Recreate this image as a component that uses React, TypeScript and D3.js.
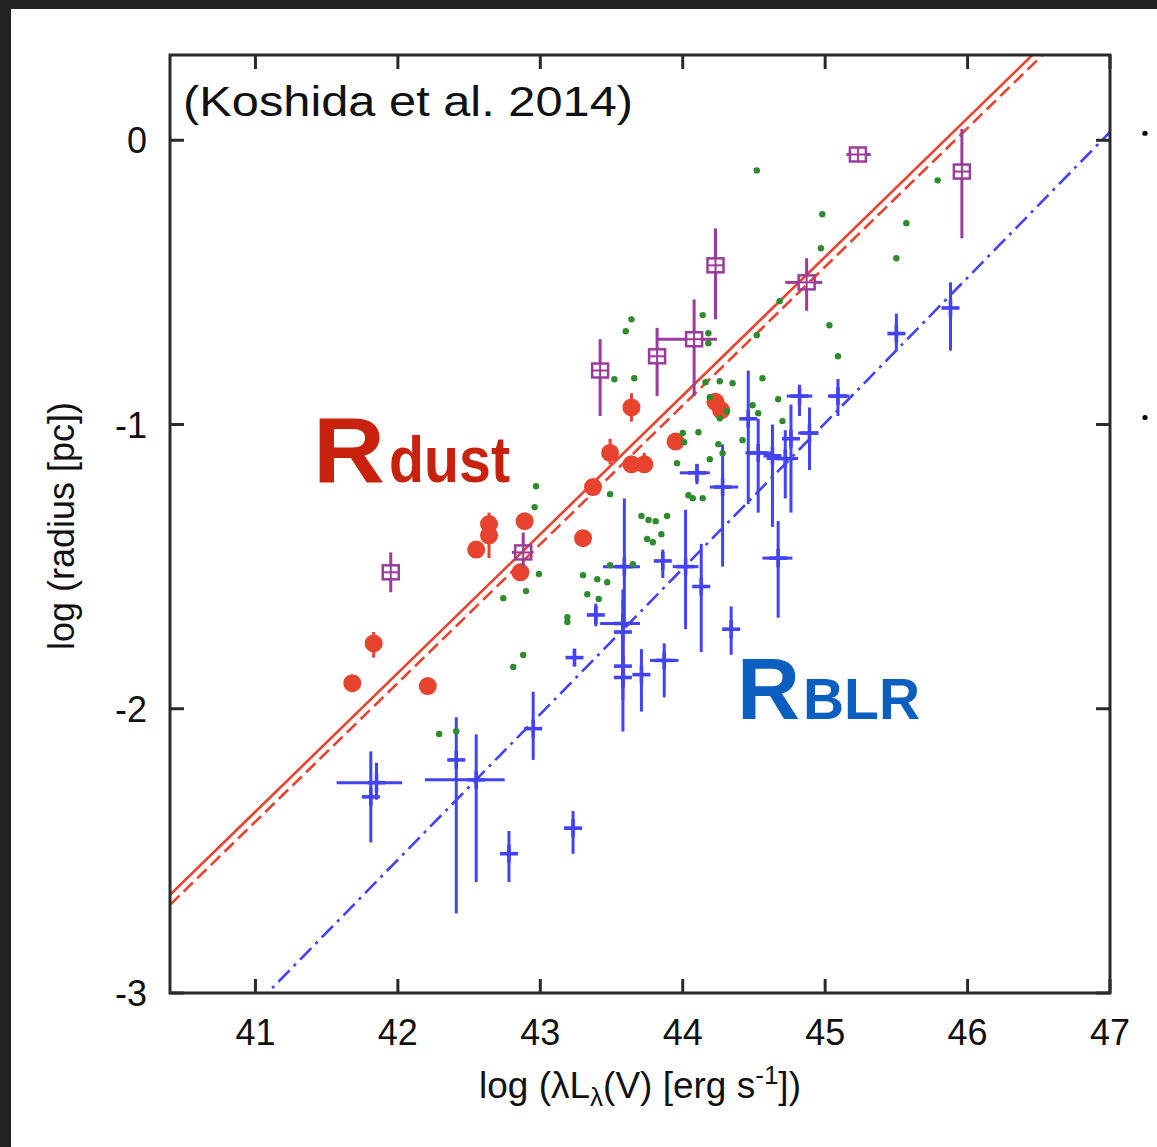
import React from 'react';
import * as d3 from 'd3';

type P = { x: number; y: number; ylo?: number; yhi?: number; xlo?: number; xhi?: number };

const xTicks = [41, 42, 43, 44, 45, 46, 47];
const yTicks = [0, -1, -2, -3];

// Red filled circles: dust reverberation radii
const dustPoints: P[] = [
  { x: 41.68, y: -1.91 },
  { x: 41.83, y: -1.77, ylo: -1.82, yhi: -1.73 },
  { x: 42.21, y: -1.92 },
  { x: 42.55, y: -1.44 },
  { x: 42.64, y: -1.35, ylo: -1.47, yhi: -1.31 },
  { x: 42.64, y: -1.39 },
  { x: 42.89, y: -1.34 },
  { x: 42.86, y: -1.52 },
  { x: 43.3, y: -1.4 },
  { x: 43.37, y: -1.22 },
  { x: 43.49, y: -1.1, ylo: -1.14, yhi: -1.05 },
  { x: 43.64, y: -1.14 },
  { x: 43.73, y: -1.14, ylo: -1.15, yhi: -1.1 },
  { x: 43.64, y: -0.94, ylo: -0.99, yhi: -0.89 },
  { x: 43.95, y: -1.06 },
  { x: 44.23, y: -0.92 },
  { x: 44.27, y: -0.95 },
];

// Purple open squares with cross: interferometric radii
const interfPoints: P[] = [
  { x: 41.95, y: -1.52, ylo: -1.59, yhi: -1.45 },
  { x: 42.88, y: -1.45, ylo: -1.5, yhi: -1.38, xlo: 42.8, xhi: 42.95 },
  { x: 43.42, y: -0.81, ylo: -0.97, yhi: -0.7 },
  { x: 43.82, y: -0.76, ylo: -0.9, yhi: -0.66 },
  { x: 44.08, y: -0.7, ylo: -0.9, yhi: -0.56, xlo: 43.82, xhi: 44.24 },
  { x: 44.23, y: -0.44, ylo: -0.63, yhi: -0.31 },
  { x: 44.87, y: -0.5, ylo: -0.6, yhi: -0.415, xlo: 44.72, xhi: 44.98 },
  { x: 45.23, y: -0.05, xlo: 45.15, xhi: 45.32 },
  { x: 45.96, y: -0.11, ylo: -0.345, yhi: 0.04 },
];

// Blue crosses: BLR radii
const blrPoints: P[] = [
  { x: 41.81, y: -2.31, ylo: -2.47, yhi: -2.15 },
  { x: 41.85, y: -2.26, ylo: -2.32, yhi: -2.19, xlo: 41.57, xhi: 42.03 },
  { x: 42.41, y: -2.18, ylo: -2.72, yhi: -2.03 },
  { x: 42.55, y: -2.25, ylo: -2.61, yhi: -2.09, xlo: 42.19, xhi: 42.75 },
  { x: 42.78, y: -2.51, ylo: -2.61, yhi: -2.43 },
  { x: 43.23, y: -2.42, ylo: -2.51, yhi: -2.36 },
  { x: 42.95, y: -2.07, ylo: -2.18, yhi: -1.94 },
  { x: 43.24, y: -1.82, ylo: -1.85, yhi: -1.8 },
  { x: 43.39, y: -1.67, ylo: -1.71, yhi: -1.63 },
  { x: 43.59, y: -1.5, ylo: -1.71, yhi: -1.26, xlo: 43.44, xhi: 43.7 },
  { x: 43.58, y: -1.7, ylo: -1.83, yhi: -1.58, xlo: 43.42, xhi: 43.7 },
  { x: 43.58, y: -1.73, ylo: -1.97, yhi: -1.62 },
  { x: 43.58, y: -1.85, ylo: -2.08, yhi: -1.76 },
  { x: 43.58, y: -1.89, ylo: -1.93, yhi: -1.81 },
  { x: 43.71, y: -1.88, ylo: -2.01, yhi: -1.79 },
  { x: 43.87, y: -1.83, ylo: -1.96, yhi: -1.77, xlo: 43.77, xhi: 43.97 },
  { x: 43.86, y: -1.48, ylo: -1.54, yhi: -1.44 },
  { x: 44.02, y: -1.5, ylo: -1.72, yhi: -1.3, xlo: 43.93, xhi: 44.11 },
  { x: 44.13, y: -1.57, ylo: -1.8, yhi: -1.42 },
  { x: 44.34, y: -1.72, ylo: -1.81, yhi: -1.64 },
  { x: 44.67, y: -1.47, ylo: -1.68, yhi: -1.34, xlo: 44.56, xhi: 44.77 },
  { x: 44.1, y: -1.17, ylo: -1.21, yhi: -1.14, xlo: 43.98, xhi: 44.19 },
  { x: 44.28, y: -1.22, ylo: -1.5, yhi: -1.07, xlo: 44.19, xhi: 44.39 },
  { x: 44.46, y: -0.98, ylo: -1.28, yhi: -0.81 },
  { x: 44.53, y: -1.1, ylo: -1.31, yhi: -0.98, xlo: 44.44, xhi: 44.64 },
  { x: 44.63, y: -1.11, ylo: -1.36, yhi: -1.0 },
  { x: 44.72, y: -1.12, ylo: -1.26, yhi: -1.02, xlo: 44.59, xhi: 44.81 },
  { x: 44.76, y: -1.05, ylo: -1.31, yhi: -0.93 },
  { x: 44.89, y: -1.03, ylo: -1.16, yhi: -0.94, xlo: 44.81, xhi: 44.95 },
  { x: 44.82, y: -0.9, ylo: -0.97, yhi: -0.86, xlo: 44.73, xhi: 44.91 },
  { x: 45.09, y: -0.9, ylo: -0.97, yhi: -0.84, xlo: 45.02, xhi: 45.17 },
  { x: 45.5, y: -0.68, ylo: -0.74, yhi: -0.61 },
  { x: 45.88, y: -0.59, ylo: -0.74, yhi: -0.5 },
];

// Green small dots
const greenX = [
  44.52, 44.98, 45.79, 45.57, 44.97, 45.5, 44.68, 45.03, 44.14, 44.18, 44.18, 44.52, 45.09, 44.56,
  44.16, 44.26, 44.35, 44.67, 44.49, 44.53, 44.7, 44.31, 44.26, 44.19, 44.0, 44.11, 44.01, 44.25,
  44.42, 44.28, 44.19, 43.96, 43.64, 43.6, 43.52, 43.66, 43.49, 44.04, 44.07, 44.14, 43.71, 43.76,
  43.81, 43.89, 43.85, 43.75, 43.79, 43.49, 43.65, 43.3, 43.4, 43.47, 43.33, 43.41, 43.19, 43.19,
  42.97, 42.96, 42.99, 42.9, 42.74, 42.88, 42.81, 42.29, 42.41,
];
const greenY = [
  -0.106, -0.26, -0.141, -0.292, -0.38, -0.415, -0.566, -0.651, -0.615, -0.679, -0.714, -0.686,
  -0.76, -0.837, -0.851, -0.848, -0.855, -0.911, -0.932, -0.96, -0.988, -0.953, -0.978, -0.904,
  -1.03, -1.027, -1.062, -1.069, -1.055, -1.101, -1.122, -1.136, -0.63, -0.672, -0.841, -0.837,
  -1.245, -1.249, -1.259, -1.259, -1.322, -1.336, -1.34, -1.322, -1.386, -1.403, -1.414, -1.495,
  -1.491, -1.53, -1.544, -1.555, -1.597, -1.614, -1.678, -1.695, -1.217, -1.291, -1.526, -1.586,
  -1.611, -1.811, -1.853, -2.089, -2.079,
];

// Fitted relations: y = a + b (x - 44)
const fitDustSolid = { a: -0.898, b: 0.488 };
const fitDustDashed = { a: -0.933, b: 0.488 };
const fitBLR = { a: -1.507, b: 0.512 };

const W = 1157;
const H = 1147;
const M = { left: 170, right: 1110, top: 55, bottom: 993 };

const FONT = "'Liberation Sans', Arial, Helvetica, sans-serif";
const RED = '#e8432f';
const PURPLE = '#9b3b9b';
const BLUE = '#4242f6';
const GREEN = '#2e8b2e';

export default function App() {
  const x = d3.scaleLinear().domain([40.4, 47]).range([M.left, M.right]);
  const y = d3.scaleLinear().domain([-3, 0.3]).range([M.bottom, M.top]);
  const xd = x.domain();

  const fitLine = (f: { a: number; b: number }) =>
    d3
      .line<number>()
      .x((v) => x(v))
      .y((v) => y(f.a + f.b * (v - 44)))([xd[0], xd[1]]) as string;

  const tickLen = 14;

  return (
    <svg
      width={W}
      height={H}
      style={{ position: 'absolute', left: 0, top: 0, background: '#fff' }}
      fontFamily={FONT}
    >
      <defs>
        <clipPath id="plotclip">
          <rect x={M.left} y={M.top} width={M.right - M.left} height={M.bottom - M.top} />
        </clipPath>
      </defs>
      <rect x={0} y={0} width={W} height={H} fill="#fff" />
      {/* dark screenshot border */}
      <rect x={0} y={0} width={W} height={9} fill="#222" />
      <rect x={0} y={0} width={11} height={H} fill="#222" />

      <g clipPath="url(#plotclip)">
        {/* fit lines */}
        <path d={fitLine(fitDustSolid)} stroke={RED} strokeWidth={2.6} fill="none" />
        <path
          d={fitLine(fitDustDashed)}
          stroke={RED}
          strokeWidth={2.6}
          fill="none"
          strokeDasharray="13,6"
        />
        <path
          d={fitLine(fitBLR)}
          stroke={BLUE}
          strokeWidth={2.6}
          fill="none"
          strokeDasharray="16,6,3,6"
        />

        {/* BLR crosses */}
        <g stroke={BLUE} strokeWidth={3} fill="none">
          {blrPoints.map((p, i) => (
            <g key={'b' + i}>
              {p.ylo !== undefined && (
                <line x1={x(p.x)} x2={x(p.x)} y1={y(p.ylo)} y2={y(p.yhi as number)} />
              )}
              {p.xlo !== undefined && (
                <line x1={x(p.xlo)} x2={x(p.xhi as number)} y1={y(p.y)} y2={y(p.y)} />
              )}
              <line x1={x(p.x) - 9} x2={x(p.x) + 9} y1={y(p.y)} y2={y(p.y)} strokeWidth={3.6} />
              <line x1={x(p.x)} x2={x(p.x)} y1={y(p.y) - 9} y2={y(p.y) + 9} strokeWidth={3.6} />
            </g>
          ))}
        </g>

        {/* dust points */}
        <g>
          {dustPoints.map((p, i) => (
            <g key={'r' + i}>
              {p.ylo !== undefined && (
                <line
                  x1={x(p.x)}
                  x2={x(p.x)}
                  y1={y(p.ylo)}
                  y2={y(p.yhi as number)}
                  stroke={RED}
                  strokeWidth={3}
                />
              )}
              <circle cx={x(p.x)} cy={y(p.y)} r={9} fill={RED} />
            </g>
          ))}
        </g>

        {/* interferometric points */}
        <g stroke={PURPLE} fill="none">
          {interfPoints.map((p, i) => {
            const cx = x(p.x);
            const cy = y(p.y);
            return (
              <g key={'p' + i}>
                {p.ylo !== undefined && (
                  <>
                    <line x1={cx} x2={cx} y1={y(p.ylo)} y2={cy + 7} strokeWidth={3} />
                    <line x1={cx} x2={cx} y1={cy - 7} y2={y(p.yhi as number)} strokeWidth={3} />
                  </>
                )}
                {p.xlo !== undefined && (
                  <>
                    <line x1={x(p.xlo)} x2={cx - 8} y1={cy} y2={cy} strokeWidth={3} />
                    <line x1={cx + 8} x2={x(p.xhi as number)} y1={cy} y2={cy} strokeWidth={3} />
                  </>
                )}
                <rect x={cx - 8} y={cy - 7} width={16} height={14} strokeWidth={2.5} />
                <line x1={cx - 8} x2={cx + 8} y1={cy} y2={cy} strokeWidth={2} />
                <line x1={cx} x2={cx} y1={cy - 7} y2={cy + 7} strokeWidth={2} />
              </g>
            );
          })}
        </g>

        {/* green dots */}
        <g fill={GREEN}>
          {greenX.map((gx, i) => (
            <circle key={'g' + i} cx={x(gx)} cy={y(greenY[i])} r={3.2} />
          ))}
        </g>
      </g>

      {/* frame + ticks */}
      <g stroke="#2a2a2a" strokeWidth={3} fill="none">
        <rect x={M.left} y={M.top} width={M.right - M.left} height={M.bottom - M.top} />
        {xTicks.map((t) => (
          <g key={'xt' + t}>
            <line x1={x(t)} x2={x(t)} y1={M.bottom} y2={M.bottom - tickLen} />
            <line x1={x(t)} x2={x(t)} y1={M.top} y2={M.top + tickLen} />
          </g>
        ))}
        {yTicks.map((t) => (
          <g key={'yt' + t}>
            <line x1={M.left} x2={M.left + tickLen} y1={y(t)} y2={y(t)} />
            <line x1={M.right} x2={M.right - tickLen} y1={y(t)} y2={y(t)} />
          </g>
        ))}
      </g>

      {/* stray dots from neighbouring panel */}
      <circle cx={x(47) + 35} cy={y(0) - 7} r={2.6} fill="#000" />
      <circle cx={x(47) + 35} cy={y(-1) - 7} r={2.6} fill="#000" />

      {/* tick labels */}
      <g fontSize={36} fill="#111">
        {xTicks.map((t) => (
          <text key={'xl' + t} x={x(t)} y={M.bottom + 52} textAnchor="middle">
            {t}
          </text>
        ))}
        {yTicks.map((t) => (
          <text key={'yl' + t} x={M.left - 23} y={y(t) + 13} textAnchor="end">
            {t}
          </text>
        ))}
      </g>

      {/* axis titles */}
      <text x={640} y={1098} textAnchor="middle" fontSize={37} fill="#111">
        log (λL
        <tspan fontSize={26} dy={8}>
          λ
        </tspan>
        <tspan dy={-8}>(V) [erg s</tspan>
        <tspan fontSize={26} dy={-14}>
          -1
        </tspan>
        <tspan dy={14}>])</tspan>
      </text>
      <text
        transform={`translate(74,${(M.top + M.bottom) / 2 + 2}) rotate(-90)`}
        textAnchor="middle"
        fontSize={36}
        fill="#111"
      >
        log (radius [pc])
      </text>

      {/* citation */}
      <text
        x={183}
        y={116}
        fontSize={43}
        fill="#111"
        textLength={450}
        lengthAdjust="spacingAndGlyphs"
      >
        (Koshida et al. 2014)
      </text>

      {/* R_dust label */}
      <text x={313} y={482} fontSize={92} fontWeight="bold" fill="#c8220e" textLength={72} lengthAdjust="spacingAndGlyphs">
        R
      </text>
      <text x={389} y={482} fontSize={64} fontWeight="bold" fill="#c8220e" textLength={121} lengthAdjust="spacingAndGlyphs">
        dust
      </text>

      {/* R_BLR label */}
      <text x={737} y={719} fontSize={88} fontWeight="bold" fill="#0b5fc0" textLength={63} lengthAdjust="spacingAndGlyphs">
        R
      </text>
      <text x={803} y={719} fontSize={58} fontWeight="bold" fill="#0b5fc0" textLength={117} lengthAdjust="spacingAndGlyphs">
        BLR
      </text>
    </svg>
  );
}
